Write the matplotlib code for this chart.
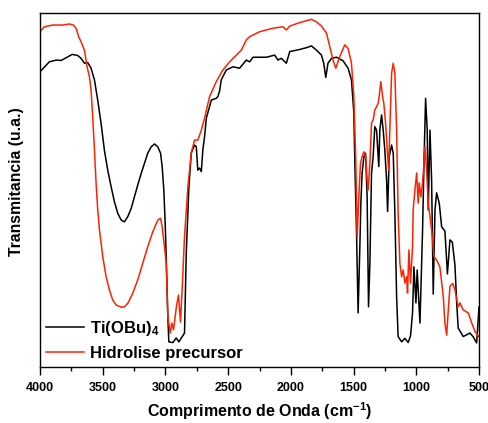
import matplotlib
matplotlib.use("Agg")
import matplotlib.pyplot as plt

plt.rcParams["font.family"] = ["Liberation Sans", "DejaVu Sans"]
plt.rcParams["font.weight"] = "bold"
plt.rcParams["mathtext.fontset"] = "custom"
plt.rcParams["mathtext.rm"] = "Liberation Sans:bold"
plt.rcParams["mathtext.default"] = "rm"

# Ti(OBu)4 spectrum, wavenumber (cm-1) and transmittance (a.u.)
wn_tiobu = [4000, 3926, 3870, 3830, 3744, 3700, 3673, 3646, 3620, 3593,
            3566, 3540, 3513, 3487, 3460, 3433, 3407, 3380, 3353, 3327,
            3300, 3273, 3247, 3221, 3193, 3167, 3141, 3114, 3087, 3061,
            3039, 3026, 3013, 3002, 2994, 2981, 2973, 2941,
            2914, 2893, 2866, 2848, 2834, 2813, 2794, 2768, 2754, 2742,
            2728, 2714, 2702, 2688, 2674, 2634, 2595, 2582, 2568, 2555,
            2515, 2462, 2409, 2355, 2329, 2302, 2195, 2129, 2103, 2076,
            2036, 2009, 1929, 1876, 1836, 1796, 1756, 1738, 1722, 1704,
            1676, 1636, 1584, 1544, 1517, 1498, 1490, 1477, 1464, 1450,
            1442, 1432, 1418, 1405, 1392, 1381, 1370, 1357, 1344, 1331,
            1317, 1309, 1299, 1291, 1277, 1264, 1251, 1237, 1229, 1216,
            1197, 1184, 1171, 1157, 1145, 1117, 1091, 1065, 1046, 1030,
            1019, 1003, 993, 971, 950, 939, 926, 913, 905, 891,
            878, 865, 851, 838, 817, 798, 772, 752, 732, 713,
            692, 678, 666, 626, 572, 546, 519, 500]
t_tiobu = [83.4, 86.2, 86.7, 86.6, 88.3, 88.0, 87.2, 85.8, 86.0, 84.4,
           81.1, 75.4, 68.8, 61.3, 55.6, 50.9, 46.7, 43.4, 41.5, 41.0,
           42.5, 44.8, 48.1, 51.4, 54.7, 57.5, 60.4, 62.2, 63.0, 62.2,
           60.4, 56.6, 50.0, 40.6, 31.2, 14.2, 7.1, 6.9,
           8.2, 7.1, 8.6, 9.6, 32.2, 50.9, 60.5, 62.7, 62.2, 55.6,
           56.2, 55.2, 61.3, 65.1, 70.3, 75.4, 75.9, 76.4, 78.0, 81.1,
           83.9, 84.8, 84.4, 86.7, 86.2, 87.5, 87.5, 88.1, 86.7, 87.2,
           85.8, 89.1, 89.7, 90.2, 90.7, 89.5, 88.1, 85.8, 81.8, 85.8,
           87.2, 87.5, 86.5, 84.4, 81.1, 71.8, 57.6, 38.7, 15.3, 34.0,
           46.3, 54.8, 59.4, 60.4, 48.1, 17.0, 29.4, 54.8, 59.4, 67.9,
           66.9, 62.2, 56.6, 66.9, 71.2, 66.9, 61.3, 52.8, 43.9, 59.4,
           62.7, 60.4, 43.5, 19.9, 8.6, 7.1, 8.1, 6.9, 8.8, 15.3,
           28.3, 18.1, 27.4, 12.4, 38.7, 57.6, 75.9, 66.9, 44.4, 66.9,
           52.8, 20.6, 44.4, 49.2, 46.3, 39.6, 38.4, 26.3, 35.9, 35.3,
           28.8, 18.1, 11.0, 8.6, 9.6, 8.5, 6.8, 17.0]

# hydrolysed precursor spectrum
wn_hidro = [4000, 3966, 3899, 3820, 3766, 3734, 3712, 3692, 3673, 3646,
            3625, 3606, 3593, 3580, 3566, 3553, 3540, 3526, 3500, 3473,
            3447, 3420, 3393, 3353, 3327, 3300, 3261, 3221, 3181, 3141,
            3101, 3061, 3039, 3026, 3008, 2994, 2981, 2962, 2949, 2936,
            2914, 2896, 2880, 2866, 2848, 2821, 2794, 2768, 2742, 2714,
            2688, 2648, 2595, 2542, 2488, 2435, 2395, 2355, 2329, 2249,
            2143, 2063, 2036, 2009, 1929, 1876, 1836, 1796, 1756, 1716,
            1690, 1664, 1642, 1610, 1570, 1544, 1517, 1498, 1482, 1472,
            1458, 1445, 1432, 1418, 1403, 1392, 1384, 1370, 1357, 1344,
            1331, 1317, 1304, 1296, 1283, 1269, 1259, 1245, 1233, 1221,
            1211, 1197, 1184, 1171, 1157, 1145, 1131, 1117, 1105, 1091,
            1077, 1070, 1059, 1046, 1030, 1025, 1011, 997, 985, 977,
            963, 950, 939, 931, 918, 905, 891, 878, 859, 838,
            812, 785, 772, 758, 745, 732, 710, 692, 666, 652,
            626, 586, 558, 532, 502]
t_hidro = [94.7, 96.1, 96.6, 96.6, 96.9, 96.6, 95.7, 93.3, 91.9, 89.5,
           84.8, 82.0, 78.2, 70.7, 61.3, 51.9, 44.4, 38.7, 31.2, 25.5,
           21.8, 18.9, 17.5, 16.9, 17.0, 18.0, 20.8, 24.6, 29.3, 34.0,
           38.2, 41.5, 42.0, 39.6, 34.0, 29.3, 14.2, 9.6, 12.4, 10.5,
           16.7, 20.3, 12.7, 22.6, 36.8, 50.9, 60.5, 64.1, 64.1, 66.9,
           70.3, 76.4, 80.6, 83.9, 86.2, 88.1, 89.5, 92.4, 93.3, 94.7,
           95.7, 96.1, 95.2, 96.3, 97.3, 97.8, 98.2, 97.5, 96.3, 94.3,
           90.5, 86.7, 84.4, 87.7, 91.0, 90.0, 85.8, 76.4, 57.6, 36.8,
           48.1, 57.6, 59.4, 60.8, 59.4, 52.8, 50.0, 57.6, 68.9, 69.8,
           72.6, 73.5, 74.5, 76.4, 80.6, 76.4, 74.5, 68.8, 62.2, 55.6,
           66.9, 83.0, 85.8, 83.0, 66.9, 43.5, 29.3, 25.5, 27.4, 23.7,
           25.5, 20.9, 33.1, 23.7, 34.0, 44.4, 50.0, 54.8, 46.3, 52.0,
           48.1, 52.0, 57.6, 62.2, 55.6, 46.3, 42.5, 38.7, 31.2, 30.2,
           28.3, 19.9, 12.4, 9.0, 16.1, 22.7, 23.6, 21.8, 17.0, 18.1,
           16.1, 15.3, 12.4, 10.0, 8.6]

fig = plt.figure(figsize=(4.88, 4.23), dpi=100)
ax = fig.add_axes([0.082, 0.1324, 0.8996, 0.8369])

ax.plot(wn_tiobu, t_tiobu, color="black", lw=1.1, label="Ti(OBu)$_4$")
ax.plot(wn_hidro, t_hidro, color="#ff2200", lw=1.1, label="Hidrolise precursor")

ax.set_xlim(4000, 500)
ax.set_ylim(0, 100)
ax.set_xticks(range(4000, 499, -500))
ax.set_xticks(range(3750, 500, -500), minor=True)
ax.tick_params(axis="x", which="major", direction="out", length=5.5, width=1,
               labelsize=9, pad=5)
ax.tick_params(axis="x", which="minor", direction="out", length=3, width=1)
ax.set_yticks([])
for s in ax.spines.values():
    s.set_linewidth(1)

ax.set_xlabel("Comprimento de Onda (cm$^{-1}$)", fontsize=11.5, fontweight="bold", labelpad=5)
ax.set_ylabel("Transmitancia (u.a.)", fontsize=11.3, fontweight="bold")
ax.yaxis.set_label_coords(-0.036, 0.523)

ax.legend(loc="lower left", frameon=False, fontsize=12, handlelength=2.3,
          handletextpad=0.35, labelspacing=0.5, borderaxespad=0.1, borderpad=0.25)

plt.savefig("out.png", dpi=100)
plt.close(fig)
